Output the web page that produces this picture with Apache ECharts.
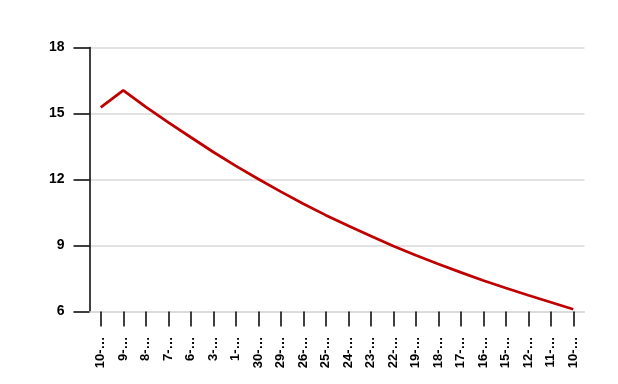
<!DOCTYPE html>
<html>
<head>
<meta charset="utf-8">
<script src="https://cdn.jsdelivr.net/npm/echarts@6/dist/echarts.min.js"></script>
<style>
html,body{margin:0;padding:0;background:#fff;}
#chart{width:618px;height:384px;}
</style>
</head>
<body>
<div id="chart"></div>
<script>
const categories = ["10-…","9-…","8-…","7-…","6-…","3-…","1-…","30-…","29-…","26-…","25-…","24-…","23-…","22-…","19-…","18-…","17-…","16-…","15-…","12-…","11-…","10-…"];
const values = [15.28, 16.05, 15.3, 14.6, 13.92, 13.25, 12.62, 12.02, 11.45, 10.9, 10.38, 9.9, 9.43, 8.98, 8.56, 8.16, 7.78, 7.41, 7.07, 6.74, 6.42, 6.1];
const yMin = 6, yMax = 18, yStep = 3;

const chart = echarts.init(document.getElementById('chart'), null, {renderer: 'canvas'});
const font = {fontFamily: 'Liberation Sans', fontWeight: 'bold', color: '#000'};
chart.setOption({
  animation: false,
  backgroundColor: '#fff',
  grid: {left: 89.5, right: 33.5, top: 47.5, bottom: 72.5, containLabel: false},
  xAxis: {
    type: 'category',
    data: categories,
    boundaryGap: true,
    axisLine: {show: true, lineStyle: {color: '#d9d9d9', width: 1.5}},
    axisTick: {show: true, alignWithLabel: true, length: 15, lineStyle: {color: '#000', width: 1.5}},
    axisLabel: Object.assign({interval: 0, rotate: 90, margin: 25, fontSize: 13}, font),
    splitLine: {show: false}
  },
  yAxis: {
    type: 'value',
    min: yMin, max: yMax, interval: yStep,
    axisLine: {show: true, lineStyle: {color: '#000', width: 1.5}},
    axisTick: {show: true, length: 16, lineStyle: {color: '#000', width: 1.5}},
    axisLabel: Object.assign({margin: 25, fontSize: 14}, font),
    splitLine: {show: true, lineStyle: {color: '#d9d9d9', width: 1.5}}
  },
  series: [{
    type: 'line',
    data: values,
    showSymbol: false,
    symbol: 'none',
    lineStyle: {color: '#c00000', width: 2.75},
    itemStyle: {color: '#c00000'}
  }]
});
</script>
</body>
</html>
